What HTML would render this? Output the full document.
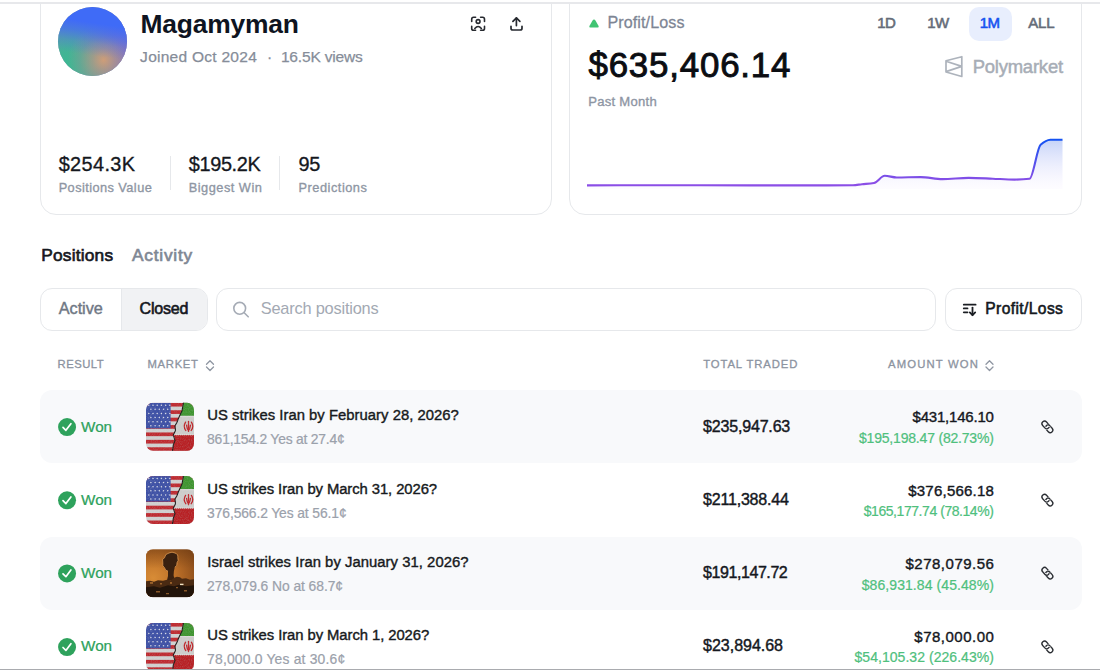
<!DOCTYPE html>
<html><head><meta charset="utf-8">
<style>
*{margin:0;padding:0;box-sizing:border-box}
html,body{width:1100px;height:670px;overflow:hidden;background:#fff;font-family:"Liberation Sans",sans-serif}
.t{position:absolute;line-height:1;white-space:nowrap}
.card{position:absolute;border:1px solid #e6e8eb;border-radius:16px;background:#fff}
.rowbg{position:absolute;left:40px;width:1041.5px;height:72.7px;background:#f8f9fb;border-radius:12px}
.box{position:absolute;border:1px solid #e6e8eb;border-radius:12px;background:#fff}
svg{position:absolute;left:0;top:0}
</style></head><body>
<div class="card" style="left:40px;top:-30px;width:512px;height:245px"></div>
<div class="card" style="left:569px;top:-30px;width:513px;height:245px"></div>
<div style="position:absolute;left:969px;top:7px;width:43px;height:34px;border-radius:10px;background:#e8eefd"></div>
<div style="position:absolute;left:58.3px;top:6.8px;width:69px;height:69px;border-radius:50%;overflow:hidden;background:#7f8fae">
 <div style="position:absolute;inset:0;background:radial-gradient(circle at 100% 66%, rgba(125,110,200,1) 0%, rgba(125,110,200,0.8) 30%, rgba(125,110,200,0) 62%)"></div>
 <div style="position:absolute;inset:0;background:radial-gradient(circle at 15% 85%, #3cb892 0%, rgba(60,184,146,0.88) 20%, rgba(60,184,146,0.5) 42%, rgba(60,184,146,0) 70%)"></div>
 <div style="position:absolute;inset:0;background:radial-gradient(circle at 66% 77%, rgba(218,158,115,0.9) 0%, rgba(205,150,125,0.6) 16%, rgba(175,140,145,0.3) 34%, rgba(150,140,160,0) 52%)"></div>
 <div style="position:absolute;inset:0;background:linear-gradient(188deg,#3f6bf7 0%, #3f6bf7 26%, rgba(63,107,247,0.72) 38%, rgba(63,107,247,0.28) 52%, rgba(63,107,247,0) 68%)"></div>
</div>
<div style="position:absolute;left:170px;top:156px;width:1px;height:34px;background:#e6e8eb"></div>
<div style="position:absolute;left:279px;top:156px;width:1px;height:34px;background:#e6e8eb"></div>
<!-- toggle -->
<div class="box" style="left:40px;top:288px;width:168px;height:43px;overflow:hidden"><div style="position:absolute;left:80px;top:0;width:88px;height:43px;background:#f1f2f4;border-left:1px solid #e6e8eb"></div></div>
<div class="box" style="left:216px;top:288px;width:720px;height:43px"></div>
<div class="box" style="left:945px;top:288px;width:137px;height:43px"></div>
<div class="rowbg" style="top:390px"></div>
<div class="rowbg" style="top:537px"></div>
<svg width="1100" height="670" viewBox="0 0 1100 670">
<defs>
 <linearGradient id="lg" x1="0" y1="140" x2="0" y2="182" gradientUnits="userSpaceOnUse">
  <stop offset="0" stop-color="#1452f2"/><stop offset="1" stop-color="#8b4ee6"/>
 </linearGradient>
 <linearGradient id="fg" x1="0" y1="140" x2="0" y2="189" gradientUnits="userSpaceOnUse">
  <stop offset="0" stop-color="#c6d4f8"/><stop offset="1" stop-color="#f6f0ff" stop-opacity="0.2"/>
 </linearGradient>
</defs>
<path d="M587.0,185.4 C598.0,185.3 609.0,185.2 620.0,185.2 C646.7,185.2 673.3,185.3 700.0,185.3 C733.3,185.3 766.7,185.4 800.0,185.4 C817.7,185.4 835.3,185.4 853.0,185.2 C856.0,185.2 859.0,184.5 862.0,184.2 C866.0,183.8 870.0,183.7 874.0,183.0 C877.6,182.4 881.1,175.8 884.7,175.8 C888.7,175.8 892.7,177.5 896.7,177.5 C904.7,177.5 912.7,177.1 920.7,177.1 C928.0,177.1 935.2,179.1 942.5,179.1 C951.2,179.1 960.0,177.9 968.7,177.9 C976.7,177.9 984.7,178.4 992.7,178.7 C1000.0,179.0 1007.2,179.6 1014.5,179.6 C1019.5,179.6 1024.5,179.4 1029.5,178.8 C1033.2,178.4 1036.9,148.0 1040.6,144.8 C1043.8,142.0 1047.1,139.9 1050.3,139.8 C1054.4,139.7 1058.4,139.7 1062.5,139.7 L1062.5,189 L587,189 Z" fill="url(#fg)"/>
<path d="M587.0,185.4 C598.0,185.3 609.0,185.2 620.0,185.2 C646.7,185.2 673.3,185.3 700.0,185.3 C733.3,185.3 766.7,185.4 800.0,185.4 C817.7,185.4 835.3,185.4 853.0,185.2 C856.0,185.2 859.0,184.5 862.0,184.2 C866.0,183.8 870.0,183.7 874.0,183.0 C877.6,182.4 881.1,175.8 884.7,175.8 C888.7,175.8 892.7,177.5 896.7,177.5 C904.7,177.5 912.7,177.1 920.7,177.1 C928.0,177.1 935.2,179.1 942.5,179.1 C951.2,179.1 960.0,177.9 968.7,177.9 C976.7,177.9 984.7,178.4 992.7,178.7 C1000.0,179.0 1007.2,179.6 1014.5,179.6 C1019.5,179.6 1024.5,179.4 1029.5,178.8 C1033.2,178.4 1036.9,148.0 1040.6,144.8 C1043.8,142.0 1047.1,139.9 1050.3,139.8 C1054.4,139.7 1058.4,139.7 1062.5,139.7" fill="none" stroke="url(#lg)" stroke-width="2.1" stroke-linejoin="round" stroke-linecap="butt"/>
<!-- triangle -->
<path d="M594,19.5 Q594.8,19.5 595.6,20.8 L598.6,26 Q599.2,27.6 597.6,27.6 L590.4,27.6 Q588.8,27.6 589.4,26 L592.4,20.8 Q593.2,19.5 594,19.5Z" fill="#40c472"/>
<!-- scan icon -->
<g fill="none" stroke="#26292f" stroke-width="1.6" stroke-linecap="round" stroke-linejoin="round">
 <path d="M471.7,21.4 V19.2 Q471.7,17.3 473.6,17.3 H475.6"/>
 <path d="M480.6,17.3 H482.6 Q484.5,17.3 484.5,19.2 V21.4"/>
 <path d="M484.5,26.3 V28.4 Q484.5,30.3 482.6,30.3 H480.6"/>
 <path d="M475.6,30.3 H473.6 Q471.7,30.3 471.7,28.4 V26.3"/>
 <circle cx="478.1" cy="21.5" r="1.9"/>
 <path d="M474.8,28.4 Q478.1,24.6 481.4,28.4"/>
</g>
<!-- upload -->
<g fill="none" stroke="#26292f" stroke-width="1.7" stroke-linecap="round" stroke-linejoin="round">
 <path d="M516.4,25.6 V18"/><path d="M512.9,21.3 L516.4,17.8 L519.9,21.3"/>
 <path d="M511,26.3 V28.2 Q511,30 512.8,30 H520.2 Q522,30 522,28.2 V26.3"/>
</g>
<!-- polymarket logo -->
<path d="M946,60.8 L961.8,56.7 L961.8,76.5 L946,72 Z M946,61.2 L961.8,66.4 L946,71.6" fill="none" stroke="#adb3bc" stroke-width="1.7" stroke-linejoin="round"/>
<!-- search -->
<g fill="none" stroke="#a5abb5" stroke-width="1.6" stroke-linecap="round"><circle cx="239.7" cy="308.3" r="5.9"/><path d="M244.2,312.8 L248.2,316.8"/></g>
<!-- sort icon -->
<g fill="none" stroke="#1a1d22" stroke-width="1.8" stroke-linecap="round" stroke-linejoin="round">
 <path d="M963.8,304.7 H975.6"/><path d="M963.8,308.4 H967.5"/><path d="M963.8,312.3 H967.5"/>
 <path d="M972.5,307.6 V315"/><path d="M969.8,312.4 L972.5,315.2 L975.2,312.4"/>
</g>
<!-- header sort chevrons -->
<g fill="none" stroke="#8f96a2" stroke-width="1.3" stroke-linecap="round" stroke-linejoin="round">
 <path d="M206.5,364.3 L210,360.8 L213.5,364.3"/><path d="M206.5,367 L210,370.5 L213.5,367"/>
 <path d="M986,364.3 L989.5,360.8 L993,364.3"/><path d="M986,367 L989.5,370.5 L993,367"/>
</g>

<defs>
<clipPath id="lkA"><rect x="-1.6" y="0.8" width="3.2" height="3.2"/></clipPath><clipPath id="lkB"><rect x="-1.6" y="-4" width="3.2" height="3.2"/></clipPath>
<filter id="grit" x="0" y="0" width="100%" height="100%"><feTurbulence type="fractalNoise" baseFrequency="0.9" numOctaves="2" seed="3"/><feColorMatrix type="matrix" values="0 0 0 0 0.5  0 0 0 0 0.5  0 0 0 0 0.5  0 0 0 1.4 -0.55"/></filter>
<clipPath id="rc"><rect x="0" y="0" width="48" height="48" rx="7"/></clipPath>
<radialGradient id="fire" cx="0.15" cy="0.6" r="0.95">
 <stop offset="0" stop-color="#d88c36"/><stop offset="0.5" stop-color="#bd7028"/><stop offset="1" stop-color="#8a4c1a"/>
</radialGradient>
<linearGradient id="firetop" x1="0" y1="0" x2="0" y2="1">
 <stop offset="0" stop-color="#6a3a12" stop-opacity="0.45"/><stop offset="0.4" stop-color="#6a3a12" stop-opacity="0"/>
</linearGradient>
<symbol id="usir" viewBox="0 0 48 48">
 <g clip-path="url(#rc)">
  <rect width="48" height="48" fill="#d2d2d2"/>
  <g fill="#bf2a30">
   <rect y="0" width="48" height="3.7"/><rect y="7.4" width="48" height="3.7"/><rect y="14.8" width="48" height="3.7"/>
   <rect y="22.2" width="48" height="3.7"/><rect y="29.6" width="48" height="3.7"/><rect y="37" width="48" height="3.7"/><rect y="44.4" width="48" height="3.7"/>
  </g>
  <rect width="24.6" height="25.5" fill="#3d50a6"/>
  <g fill="#d9dcea"><circle cx="2.8" cy="2.4" r="0.75"/><circle cx="7.0" cy="2.4" r="0.75"/><circle cx="11.2" cy="2.4" r="0.75"/><circle cx="15.4" cy="2.4" r="0.75"/><circle cx="19.6" cy="2.4" r="0.75"/><circle cx="23.8" cy="2.4" r="0.75"/><circle cx="4.9" cy="6.5" r="0.75"/><circle cx="9.1" cy="6.5" r="0.75"/><circle cx="13.3" cy="6.5" r="0.75"/><circle cx="17.5" cy="6.5" r="0.75"/><circle cx="21.7" cy="6.5" r="0.75"/><circle cx="2.8" cy="10.6" r="0.75"/><circle cx="7.0" cy="10.6" r="0.75"/><circle cx="11.2" cy="10.6" r="0.75"/><circle cx="15.4" cy="10.6" r="0.75"/><circle cx="19.6" cy="10.6" r="0.75"/><circle cx="23.8" cy="10.6" r="0.75"/><circle cx="4.9" cy="14.7" r="0.75"/><circle cx="9.1" cy="14.7" r="0.75"/><circle cx="13.3" cy="14.7" r="0.75"/><circle cx="17.5" cy="14.7" r="0.75"/><circle cx="21.7" cy="14.7" r="0.75"/><circle cx="2.8" cy="18.8" r="0.75"/><circle cx="7.0" cy="18.8" r="0.75"/><circle cx="11.2" cy="18.8" r="0.75"/><circle cx="15.4" cy="18.8" r="0.75"/><circle cx="19.6" cy="18.8" r="0.75"/><circle cx="23.8" cy="18.8" r="0.75"/><circle cx="4.9" cy="22.9" r="0.75"/><circle cx="9.1" cy="22.9" r="0.75"/><circle cx="13.3" cy="22.9" r="0.75"/><circle cx="17.5" cy="22.9" r="0.75"/><circle cx="21.7" cy="22.9" r="0.75"/></g>
  <path d="M37.6,-1 L36,8 L33,14.3 L30.9,19.7 L29,23 L29.5,27.7 L27.3,32.2 L29,37.6 L27.3,42 L26.4,49 L49,49 L49,-1 Z" fill="#cfcfcd"/>
  <path d="M37.6,-1 L36,8 L33.4,13 L49,13 L49,-1 Z" fill="#3e952f"/>
  <path d="M27.6,32.2 L29,37.6 L27.3,42 L26.4,49 L49,49 L49,32.2 Z" fill="#b82024"/>
  <path d="M33.4,13.6 H48 M28,32 H48" stroke="#e9e9e6" stroke-width="0.9" stroke-dasharray="1.2 0.8"/>
  <path d="M37.6,-1 L36,8 L33,14.3 L30.9,19.7 L29,23 L29.5,27.7 L27.3,32.2 L29,37.6 L27.3,42 L26.4,49" fill="none" stroke="#1f1a1a" stroke-width="1.1" stroke-linejoin="bevel"/>
  <g fill="none" stroke="#c0262a" stroke-width="1.3" stroke-linecap="round">
   <path d="M39.6,19.3 Q36.8,23.6 39.8,27.6"/><path d="M45.4,19.3 Q48.2,23.6 45.2,27.6"/><path d="M42.5,18.6 V28.6"/><path d="M40.6,22.2 Q41,26.4 42.5,27.4 Q44,26.4 44.4,22.2"/>
  </g>
   <rect width="48" height="48" filter="url(#grit)" opacity="0.35"/>
 </g>
</symbol>
<symbol id="ilir" viewBox="0 0 48 48">
 <g clip-path="url(#rc)">
  <rect width="48" height="48" fill="url(#fire)"/>
  <rect width="48" height="48" fill="url(#firetop)"/>
  <path d="M21,31 Q22.5,26 22,22 Q19,21.5 18.5,18.5 Q16,17 16.8,13.5 Q15.5,10 18.5,8.5 Q19,4.5 23,3.8 Q26,2.2 29,3.8 Q32.5,5 31.8,8.5 Q33,11.5 31,13.5 Q31.5,17 28.8,18 Q27.5,22 27.6,26 Q28,29.5 29,31 Z" fill="#3a2110"/>
  <path d="M22,22 Q19,21.5 18.5,18.5 Q16,17 16.8,13.5 Q15.5,10 18.5,8.5 Q19,4.5 23,3.8 Q26,2.2 29,3.8 Q32.5,5 31.8,8.5 Q33,11.5 31,13.5 Q31.5,17 28.8,18" fill="none" stroke="#eea458" stroke-width="0.9" opacity="0.8"/>
  <path d="M0,32 L4,31.5 L8,32.5 L12,31 L17,31.5 L21,30.5 L25,31 L28,28.5 L31,27.5 L34,28 L36,29.5 L40,29 L44,30.5 L48,30 L48,48 L0,48 Z" fill="#4a2a12"/>
  <path d="M0,38 L8,37 L14,38.5 L22,36 L28,37 L33,35.5 L40,37 L48,36 L48,48 L0,48 Z" fill="#22140a"/>
  <g fill="#d98d40" opacity="0.7"><rect x="4" y="33" width="3" height="1.5"/><rect x="14" y="34" width="2" height="1.2"/><rect x="24" y="33" width="2" height="1.5"/><rect x="10" y="42" width="4" height="1.2"/><rect x="20" y="44" width="3" height="1"/><rect x="38" y="41" width="3" height="1.2"/><rect x="30" y="38" width="2" height="1"/></g>
  <rect x="34" y="34.5" width="3.5" height="1.4" fill="#f3e4c4"/>
 </g>
</symbol>
</defs>
<circle cx="67.05" cy="427.05" r="9" fill="#2ea25c"/>
<path d="M63,427.45 L65.9,430.35 L70.9,423.65" fill="none" stroke="#fff" stroke-width="1.7" stroke-linecap="round" stroke-linejoin="round"/>
<use href="#usir" x="146" y="402.85" width="48" height="48"/>
<g transform="translate(1047.4,426.85) rotate(48)" fill="none" stroke-width="1.35"><g stroke="#2b2e33"><rect x="-1.6" y="-2.6" width="8.4" height="5.2" rx="2.6"/></g><g clip-path="url(#lkA)"><g stroke="#f8f9fb" stroke-width="3.4"><rect x="-6.8" y="-2.6" width="8.4" height="5.2" rx="2.6"/></g></g><g stroke="#2b2e33"><rect x="-6.8" y="-2.6" width="8.4" height="5.2" rx="2.6"/></g><g clip-path="url(#lkB)"><g stroke="#f8f9fb" stroke-width="3.4"><rect x="-1.6" y="-2.6" width="8.4" height="5.2" rx="2.6"/></g><g stroke="#2b2e33"><rect x="-1.6" y="-2.6" width="8.4" height="5.2" rx="2.6"/></g></g></g>
<circle cx="67.05" cy="500.30" r="9" fill="#2ea25c"/>
<path d="M63,500.70 L65.9,503.60 L70.9,496.90" fill="none" stroke="#fff" stroke-width="1.7" stroke-linecap="round" stroke-linejoin="round"/>
<use href="#usir" x="146" y="476.10" width="48" height="48"/>
<g transform="translate(1047.4,500.10) rotate(48)" fill="none" stroke-width="1.35"><g stroke="#2b2e33"><rect x="-1.6" y="-2.6" width="8.4" height="5.2" rx="2.6"/></g><g clip-path="url(#lkA)"><g stroke="#ffffff" stroke-width="3.4"><rect x="-6.8" y="-2.6" width="8.4" height="5.2" rx="2.6"/></g></g><g stroke="#2b2e33"><rect x="-6.8" y="-2.6" width="8.4" height="5.2" rx="2.6"/></g><g clip-path="url(#lkB)"><g stroke="#ffffff" stroke-width="3.4"><rect x="-1.6" y="-2.6" width="8.4" height="5.2" rx="2.6"/></g><g stroke="#2b2e33"><rect x="-1.6" y="-2.6" width="8.4" height="5.2" rx="2.6"/></g></g></g>
<circle cx="67.05" cy="573.40" r="9" fill="#2ea25c"/>
<path d="M63,573.80 L65.9,576.70 L70.9,570.00" fill="none" stroke="#fff" stroke-width="1.7" stroke-linecap="round" stroke-linejoin="round"/>
<use href="#ilir" x="146" y="549.20" width="48" height="48"/>
<g transform="translate(1047.4,573.20) rotate(48)" fill="none" stroke-width="1.35"><g stroke="#2b2e33"><rect x="-1.6" y="-2.6" width="8.4" height="5.2" rx="2.6"/></g><g clip-path="url(#lkA)"><g stroke="#f8f9fb" stroke-width="3.4"><rect x="-6.8" y="-2.6" width="8.4" height="5.2" rx="2.6"/></g></g><g stroke="#2b2e33"><rect x="-6.8" y="-2.6" width="8.4" height="5.2" rx="2.6"/></g><g clip-path="url(#lkB)"><g stroke="#f8f9fb" stroke-width="3.4"><rect x="-1.6" y="-2.6" width="8.4" height="5.2" rx="2.6"/></g><g stroke="#2b2e33"><rect x="-1.6" y="-2.6" width="8.4" height="5.2" rx="2.6"/></g></g></g>
<circle cx="67.05" cy="647.10" r="9" fill="#2ea25c"/>
<path d="M63,647.50 L65.9,650.40 L70.9,643.70" fill="none" stroke="#fff" stroke-width="1.7" stroke-linecap="round" stroke-linejoin="round"/>
<use href="#usir" x="146" y="622.90" width="48" height="48"/>
<g transform="translate(1047.4,646.90) rotate(48)" fill="none" stroke-width="1.35"><g stroke="#2b2e33"><rect x="-1.6" y="-2.6" width="8.4" height="5.2" rx="2.6"/></g><g clip-path="url(#lkA)"><g stroke="#ffffff" stroke-width="3.4"><rect x="-6.8" y="-2.6" width="8.4" height="5.2" rx="2.6"/></g></g><g stroke="#2b2e33"><rect x="-6.8" y="-2.6" width="8.4" height="5.2" rx="2.6"/></g><g clip-path="url(#lkB)"><g stroke="#ffffff" stroke-width="3.4"><rect x="-1.6" y="-2.6" width="8.4" height="5.2" rx="2.6"/></g><g stroke="#2b2e33"><rect x="-1.6" y="-2.6" width="8.4" height="5.2" rx="2.6"/></g></g></g>
</svg>
<div class="t" style="left:140.50px;top:11px;font-size:26.43px;font-weight:700;color:#0e1421;letter-spacing:-0.200px;">Magamyman</div>
<div class="t" style="left:140.12px;top:49px;font-size:15.55px;font-weight:400;-webkit-text-stroke:0.25px #868d99;color:#868d99;letter-spacing:0.247px;">Joined Oct 2024</div>
<div class="t" style="left:267.00px;top:49px;font-size:15.55px;font-weight:400;-webkit-text-stroke:0.25px #868d99;color:#868d99;">·</div>
<div class="t" style="left:280.92px;top:49px;font-size:15.55px;font-weight:400;-webkit-text-stroke:0.25px #868d99;color:#868d99;letter-spacing:-0.185px;">16.5K views</div>
<div class="t" style="left:58.66px;top:155px;font-size:19.91px;font-weight:400;-webkit-text-stroke:0.32px #15181e;color:#15181e;letter-spacing:0.380px;">$254.3K</div>
<div class="t" style="left:188.76px;top:155px;font-size:19.91px;font-weight:400;-webkit-text-stroke:0.32px #15181e;color:#15181e;letter-spacing:-0.353px;">$195.2K</div>
<div class="t" style="left:298.56px;top:155px;font-size:19.91px;font-weight:400;-webkit-text-stroke:0.32px #15181e;color:#15181e;letter-spacing:-0.300px;">95</div>
<div class="t" style="left:58.67px;top:182px;font-size:12.79px;font-weight:400;-webkit-text-stroke:0.33px #8e96a3;color:#8e96a3;letter-spacing:0.426px;">Positions Value</div>
<div class="t" style="left:188.77px;top:182px;font-size:12.79px;font-weight:400;-webkit-text-stroke:0.33px #8e96a3;color:#8e96a3;letter-spacing:0.487px;">Biggest Win</div>
<div class="t" style="left:298.57px;top:182px;font-size:12.79px;font-weight:400;-webkit-text-stroke:0.33px #8e96a3;color:#8e96a3;letter-spacing:0.507px;">Predictions</div>
<div class="t" style="left:607.43px;top:14px;font-size:16.13px;font-weight:400;-webkit-text-stroke:0.26px #7d8594;color:#7d8594;letter-spacing:0.094px;">Profit/Loss</div>
<div class="t" style="left:588.45px;top:48px;font-size:34.88px;font-weight:400;-webkit-text-stroke:0.91px #0b0d12;color:#0b0d12;letter-spacing:0.809px;">$635,406.14</div>
<div class="t" style="left:588.17px;top:95px;font-size:13.08px;font-weight:400;-webkit-text-stroke:0.34px #8d95a3;color:#8d95a3;letter-spacing:0.273px;">Past Month</div>
<div class="t" style="left:1028.29px;top:15px;font-size:15.02px;font-weight:400;-webkit-text-stroke:0.57px #656c78;color:#656c78;letter-spacing:-0.200px;">ALL</div>
<div class="t" style="left:877.25px;top:15px;font-size:15.02px;font-weight:400;-webkit-text-stroke:0.57px #656c78;color:#656c78;letter-spacing:-0.600px;">1D</div>
<div class="t" style="left:927.25px;top:15px;font-size:15.02px;font-weight:400;-webkit-text-stroke:0.57px #656c78;color:#656c78;letter-spacing:-0.600px;">1W</div>
<div class="t" style="left:979.75px;top:15px;font-size:15.02px;font-weight:400;-webkit-text-stroke:0.57px #1652f0;color:#1652f0;letter-spacing:-0.600px;">1M</div>
<div class="t" style="left:972.64px;top:58px;font-size:18.46px;font-weight:400;-webkit-text-stroke:0.48px #a7adb6;color:#a7adb6;letter-spacing:-0.198px;">Polymarket</div>
<div class="t" style="left:41.23px;top:247px;font-size:17.30px;font-weight:400;-webkit-text-stroke:0.66px #15181e;color:#15181e;letter-spacing:0.218px;">Positions</div>
<div class="t" style="left:131.93px;top:247px;font-size:17.30px;font-weight:400;-webkit-text-stroke:0.66px #7f8794;color:#7f8794;letter-spacing:0.792px;">Activity</div>
<div class="t" style="left:58.81px;top:300px;font-size:16.28px;font-weight:400;-webkit-text-stroke:0.42px #6f7784;color:#6f7784;letter-spacing:-0.065px;">Active</div>
<div class="t" style="left:139.60px;top:301px;font-size:16.01px;font-weight:400;-webkit-text-stroke:0.61px #15181e;color:#15181e;letter-spacing:-0.200px;">Closed</div>
<div class="t" style="left:260.70px;top:300px;font-size:16.38px;font-weight:400;color:#a3a9b3;letter-spacing:-0.200px;">Search positions</div>
<div class="t" style="left:985.30px;top:301px;font-size:15.60px;font-weight:400;-webkit-text-stroke:0.59px #15181e;color:#15181e;letter-spacing:0.391px;">Profit/Loss</div>
<div class="t" style="left:57.55px;top:359px;font-size:11.30px;font-weight:400;-webkit-text-stroke:0.29px #8c93a0;color:#8c93a0;letter-spacing:0.461px;">RESULT</div>
<div class="t" style="left:147.55px;top:359px;font-size:11.30px;font-weight:400;-webkit-text-stroke:0.29px #8c93a0;color:#8c93a0;letter-spacing:0.661px;">MARKET</div>
<div class="t" style="left:703.15px;top:359px;font-size:11.30px;font-weight:400;-webkit-text-stroke:0.29px #8c93a0;color:#8c93a0;letter-spacing:0.901px;">TOTAL TRADED</div>
<div class="t" style="left:887.95px;top:359px;font-size:11.30px;font-weight:400;-webkit-text-stroke:0.29px #8c93a0;color:#8c93a0;letter-spacing:1.156px;">AMOUNT WON</div>
<div class="t" style="left:81.12px;top:419px;font-size:15.26px;font-weight:400;-webkit-text-stroke:0.24px #2ea25c;color:#2ea25c;letter-spacing:-0.072px;">Won</div>
<div class="t" style="left:207.29px;top:408px;font-size:14.83px;font-weight:400;-webkit-text-stroke:0.39px #171a20;color:#171a20;letter-spacing:0.028px;">US strikes Iran by February 28, 2026?</div>
<div class="t" style="left:207.11px;top:433px;font-size:13.87px;font-weight:400;-webkit-text-stroke:0.22px #9ba1ab;color:#9ba1ab;letter-spacing:-0.200px;">861,154.2 Yes at 27.4¢</div>
<div class="t" style="left:703.11px;top:418px;font-size:16.05px;font-weight:400;-webkit-text-stroke:0.42px #15181e;color:#15181e;letter-spacing:-0.200px;">$235,947.63</div>
<div class="t" style="left:912.50px;top:409px;font-size:15.01px;font-weight:400;-webkit-text-stroke:0.39px #15181e;color:#15181e;letter-spacing:-0.200px;">$431,146.10</div>
<div class="t" style="left:858.99px;top:431px;font-size:14.02px;font-weight:400;-webkit-text-stroke:0.22px #4fc07d;color:#4fc07d;letter-spacing:-0.200px;">$195,198.47 (82.73%)</div>
<div class="t" style="left:81.12px;top:492px;font-size:15.26px;font-weight:400;-webkit-text-stroke:0.24px #2ea25c;color:#2ea25c;letter-spacing:-0.072px;">Won</div>
<div class="t" style="left:207.29px;top:482px;font-size:14.83px;font-weight:400;-webkit-text-stroke:0.39px #171a20;color:#171a20;letter-spacing:-0.078px;">US strikes Iran by March 31, 2026?</div>
<div class="t" style="left:207.11px;top:507px;font-size:13.87px;font-weight:400;-webkit-text-stroke:0.22px #9ba1ab;color:#9ba1ab;letter-spacing:-0.111px;">376,566.2 Yes at 56.1¢</div>
<div class="t" style="left:703.11px;top:491px;font-size:16.05px;font-weight:400;-webkit-text-stroke:0.42px #15181e;color:#15181e;letter-spacing:-0.222px;">$211,388.44</div>
<div class="t" style="left:908.20px;top:483px;font-size:15.01px;font-weight:400;-webkit-text-stroke:0.39px #15181e;color:#15181e;letter-spacing:0.231px;">$376,566.18</div>
<div class="t" style="left:863.74px;top:504px;font-size:14.02px;font-weight:400;-webkit-text-stroke:0.22px #4fc07d;color:#4fc07d;letter-spacing:-0.450px;">$165,177.74 (78.14%)</div>
<div class="t" style="left:81.12px;top:565px;font-size:15.26px;font-weight:400;-webkit-text-stroke:0.24px #2ea25c;color:#2ea25c;letter-spacing:-0.072px;">Won</div>
<div class="t" style="left:207.29px;top:555px;font-size:14.83px;font-weight:400;-webkit-text-stroke:0.39px #171a20;color:#171a20;letter-spacing:0.041px;">Israel strikes Iran by January 31, 2026?</div>
<div class="t" style="left:207.11px;top:580px;font-size:13.87px;font-weight:400;-webkit-text-stroke:0.22px #9ba1ab;color:#9ba1ab;letter-spacing:-0.061px;">278,079.6 No at 68.7¢</div>
<div class="t" style="left:703.11px;top:564px;font-size:16.05px;font-weight:400;-webkit-text-stroke:0.42px #15181e;color:#15181e;letter-spacing:-0.450px;">$191,147.72</div>
<div class="t" style="left:905.50px;top:556px;font-size:15.01px;font-weight:400;-webkit-text-stroke:0.39px #15181e;color:#15181e;letter-spacing:0.500px;">$278,079.56</div>
<div class="t" style="left:861.71px;top:578px;font-size:14.02px;font-weight:400;-webkit-text-stroke:0.22px #4fc07d;color:#4fc07d;letter-spacing:0.071px;">$86,931.84 (45.48%)</div>
<div class="t" style="left:81.12px;top:638px;font-size:15.26px;font-weight:400;-webkit-text-stroke:0.24px #2ea25c;color:#2ea25c;letter-spacing:-0.072px;">Won</div>
<div class="t" style="left:207.29px;top:628px;font-size:14.83px;font-weight:400;-webkit-text-stroke:0.39px #171a20;color:#171a20;letter-spacing:-0.071px;">US strikes Iran by March 1, 2026?</div>
<div class="t" style="left:207.11px;top:653px;font-size:13.87px;font-weight:400;-webkit-text-stroke:0.22px #9ba1ab;color:#9ba1ab;letter-spacing:0.194px;">78,000.0 Yes at 30.6¢</div>
<div class="t" style="left:703.11px;top:637px;font-size:16.05px;font-weight:400;-webkit-text-stroke:0.42px #15181e;color:#15181e;letter-spacing:-0.035px;">$23,894.68</div>
<div class="t" style="left:914.30px;top:629px;font-size:15.01px;font-weight:400;-webkit-text-stroke:0.39px #15181e;color:#15181e;letter-spacing:0.500px;">$78,000.00</div>
<div class="t" style="left:854.51px;top:650px;font-size:14.02px;font-weight:400;-webkit-text-stroke:0.22px #4fc07d;color:#4fc07d;letter-spacing:0.036px;">$54,105.32 (226.43%)</div>
<div style="position:absolute;left:0;top:0;width:1100px;height:2px;background:#fff"></div>
<div style="position:absolute;left:0;top:2px;width:1100px;height:2px;background:#e7e8eb"></div>
<div style="position:absolute;left:0;top:669px;width:1100px;height:1px;background:#a9abaf"></div>
</body></html>
